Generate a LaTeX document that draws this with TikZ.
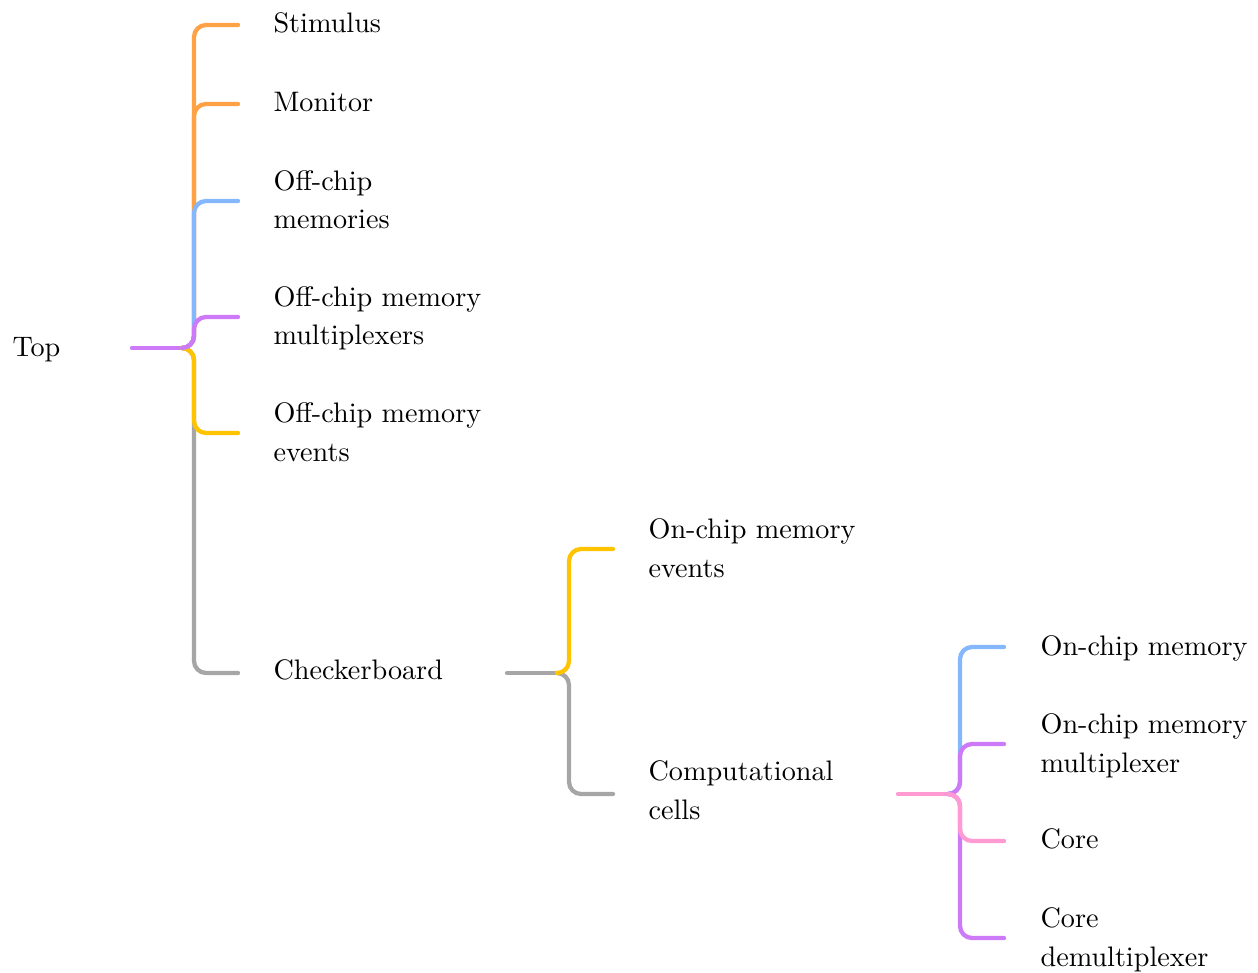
\documentclass[tikz,border=0pt]{standalone}
\definecolor{cOr}{HTML}{FFA245}
\definecolor{cBl}{HTML}{85B7FF}
\definecolor{cPu}{HTML}{CC7AF8}
\definecolor{cYe}{HTML}{FFC300}
\definecolor{cGr}{HTML}{A6A6A6}
\definecolor{cPk}{HTML}{FF9BD2}
\begin{document}
\begin{tikzpicture}[x=1pt,y=-1pt,
  lbl/.style={inner sep=0pt,anchor=base west,align=left,font=\fontsize{10}{13.5}\selectfont,scale=2.82,transform shape},
  link/.style={line width=4.3pt,line cap=round,rounded corners=12pt},
  stem/.style={line width=4.3pt,line cap=round}]
\useasboundingbox (0,0) rectangle (1258,973);

% labels (anchor = baseline of last line)
\node[lbl] (top) at (12,357) {Top};
\node[lbl] (stim) at (273,33) {Stimulus};
\node[lbl] (mon) at (273,112) {Monitor};
\node[lbl] (ocm) at (273,229) {Off-chip\\memories};
\node[lbl] (ocmm) at (273,345) {Off-chip memory\\multiplexers};
\node[lbl] (ocme) at (273,461) {Off-chip memory\\events};
\node[lbl] (chk) at (273,679) {Checkerboard};
\node[lbl] (onme) at (648,577) {On-chip memory\\events};
\node[lbl] (cc) at (648,819) {Computational\\cells};
\node[lbl] (onm) at (1040,655) {On-chip memory};
\node[lbl] (onmm) at (1040,772) {On-chip memory\\multiplexer};
\node[lbl] (core) at (1040,848) {Core};
\node[lbl] (cdm) at (1040,966) {Core\\demultiplexer};

% connector coordinates
\coordinate (ts) at (132,348);  \coordinate (tj) at (182,348);
\coordinate (ks) at (507,673);  \coordinate (kj) at (557,673);
\coordinate (cs) at (898,794);  \coordinate (cj) at (948,794);
\coordinate (e1) at (238,25);
\coordinate (e2) at (238,104);
\coordinate (e3) at (238,201);
\coordinate (e4) at (238,317);
\coordinate (e5) at (238,433);
\coordinate (e6) at (238,673);
\coordinate (f1) at (613,549);
\coordinate (f2) at (613,794);
\coordinate (g1) at (1004,647);
\coordinate (g2) at (1004,744);
\coordinate (g3) at (1004,841);
\coordinate (g4) at (1004,938);

% Top level
\draw[stem,cPu] (ts) -- (tj);
\draw[link,cOr] (tj) -| ([xshift=-44pt]e1) -- (e1);
\draw[link,cOr] (tj) -| ([xshift=-44pt]e2) -- (e2);
\draw[link,cGr] (tj) -| ([xshift=-44pt]e6) -- (e6);
\draw[link,cBl] (tj) -| ([xshift=-44pt]e3) -- (e3);
\draw[link,cYe] (tj) -| ([xshift=-44pt]e5) -- (e5);
\draw[link,cPu] (tj) -| ([xshift=-44pt]e4) -- (e4);

% Checkerboard
\draw[stem,cGr] (ks) -- (kj);
\draw[link,cGr] (kj) -| ([xshift=-44pt]f2) -- (f2);
\draw[link,cYe] (kj) -| ([xshift=-44pt]f1) -- (f1);

% Computational cells
\draw[stem,cPk] (cs) -- (cj);
\draw[link,cBl] (cj) -| ([xshift=-44pt]g1) -- (g1);
\draw[link,cPu] (cj) -| ([xshift=-44pt]g4) -- (g4);
\draw[link,cPu] (cj) -| ([xshift=-44pt]g2) -- (g2);
\draw[link,cPk] (cj) -| ([xshift=-44pt]g3) -- (g3);
\end{tikzpicture}
\end{document}
